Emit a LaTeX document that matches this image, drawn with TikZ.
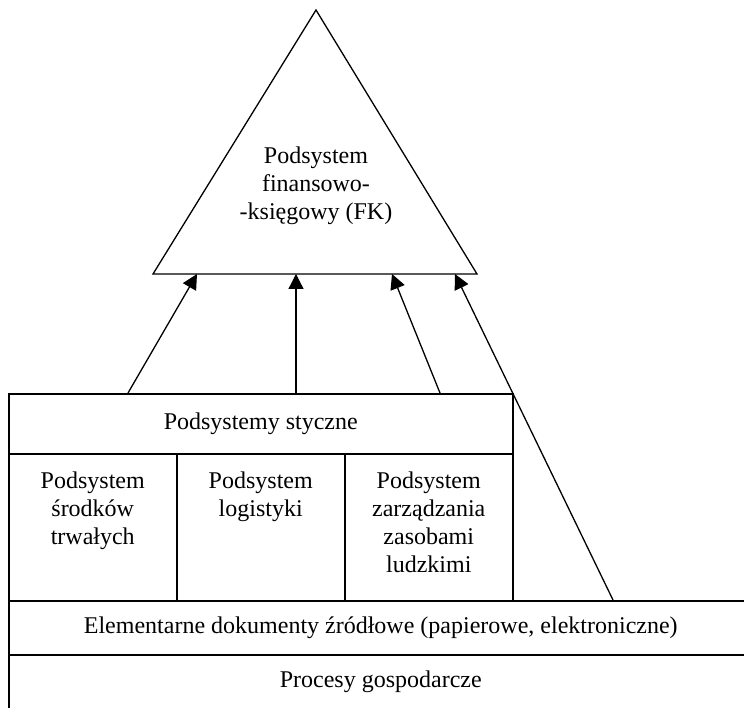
\documentclass[tikz,border=0pt]{standalone}
\usepackage{fontspec}
\setmainfont{Liberation Serif}
\usetikzlibrary{arrows.meta,positioning}
\tikzset{
  box/.style={draw, line width=1.5pt, inner sep=0pt, anchor=north west},
  layer/.style={box, minimum width=744pt, minimum height=54pt},
  subbox/.style={box, minimum width=168pt, minimum height=147pt},
  txt/.style={align=center, inner sep=0pt},
  flow/.style={-{Triangle[length=15pt,width=15pt]}, line width=1.3pt},
}

\begin{document}
\begin{tikzpicture}[x=1pt, y=-1pt, font=\fontsize{24}{27.8}\selectfont]
\useasboundingbox (0,0) rectangle (744,708);

% glowny podsystem
\coordinate (apex) at (316,10);
\coordinate (bl) at (153,274);
\coordinate (br) at (477,274);
\draw[line width=1.3pt] (bl) -- (apex) -- (br) -- cycle;
\node[txt, anchor=north] (fk) at (316,147) {Podsystem\\finansowo-\\-księgowy (FK)};

% warstwy
\node[layer] (procesy) at (8,654) {Procesy gospodarcze};
\node[layer] (dokumenty) at (8,600) {Elementarne dokumenty źródłowe (papierowe, elektroniczne)};
\node[box, minimum width=504pt, minimum height=60pt] (styczne) at (8,393) {Podsystemy styczne};

\foreach \i/\name in {0/srodki, 1/logistyka, 2/kadry} {
    \node[subbox] (\name) at (8+168*\i,453) {};
}
\node[txt, anchor=north] (srodkitxt) at (srodki.north |- 0,472) {Podsystem\\środków\\trwałych};
\node[txt, anchor=north] (logistykatxt) at (logistyka.north |- 0,472) {Podsystem\\logistyki};
\node[txt, anchor=north] (kadrytxt) at (kadry.north |- 0,472) {Podsystem\\zarządzania\\zasobami\\ludzkimi};

% przeplyw danych
\coordinate (s1) at (128,393);
\coordinate (s2) at (296,393);
\coordinate (s3) at (440,393);
\coordinate (s4) at (613,600);
\coordinate (t1) at (197,274);
\coordinate (t2) at (296,274);
\coordinate (t3) at (392,274);
\coordinate (t4) at (455,274);
\foreach \k in {1,...,4} {
    \draw[flow] (s\k) -- (t\k);
}

\end{tikzpicture}
\end{document}
